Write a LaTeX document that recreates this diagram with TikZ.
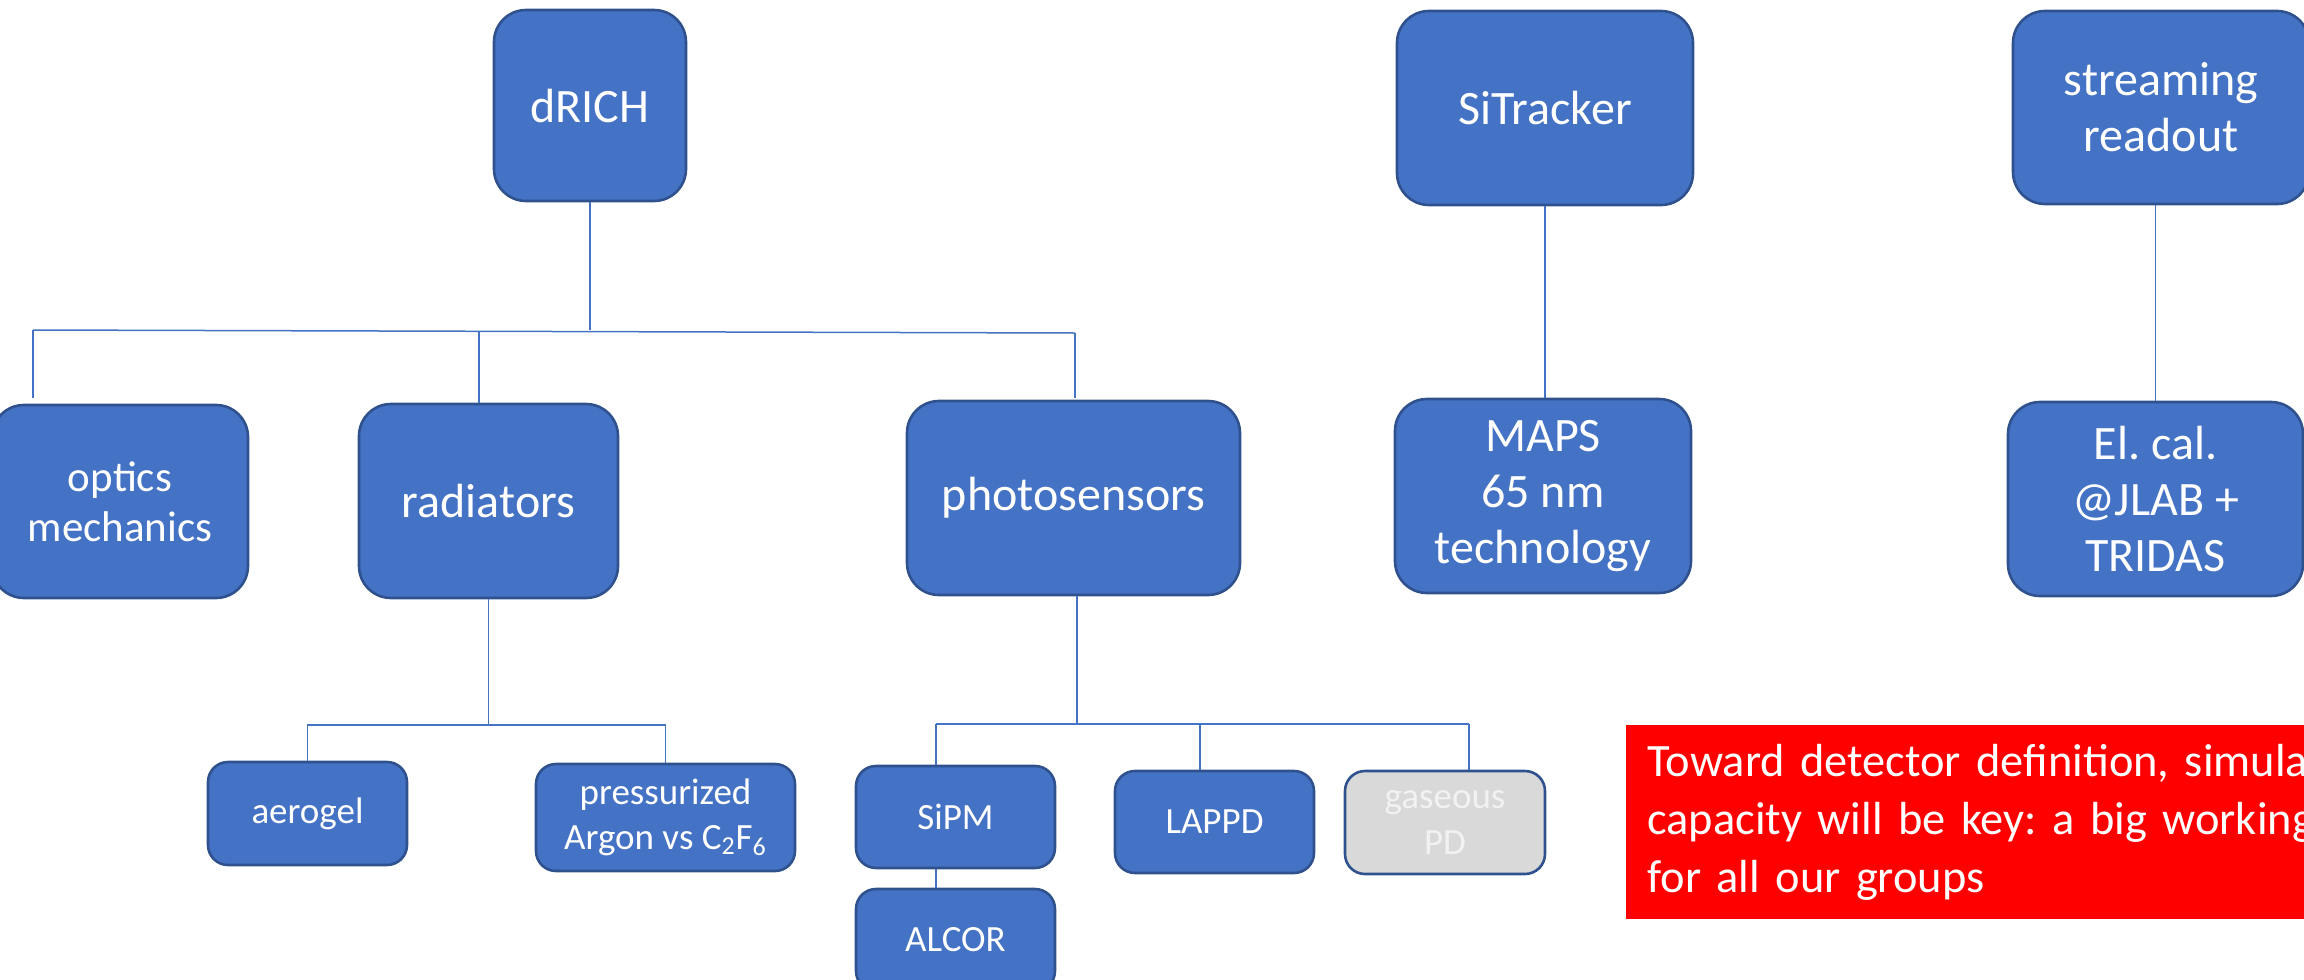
\documentclass[tikz,border=0pt]{standalone}
\usepackage{fontspec}
\setmainfont{Carlito}
\frenchspacing
\definecolor{boxblue}{HTML}{4472C4}
\definecolor{edgeblue}{HTML}{2F528F}
\definecolor{padgray}{HTML}{D9D9D9}
\definecolor{padtext}{HTML}{F2F2F2}
\tikzset{
  block/.style={rectangle, rounded corners=16pt, fill=boxblue, draw=edgeblue,
    line width=1.3pt, text=white, align=center, inner sep=0pt,
    font=\fontsize{24}{28}\selectfont},
  leaf/.style={block, rounded corners=10pt, font=\fontsize{18.5}{22.6}\selectfont},
  link/.style={draw=boxblue, line width=0.75pt},
  notebox/.style={anchor=north west, fill=red, text=white, text width=700pt,
    minimum height=97pt, inner xsep=10.5pt, inner ysep=0pt, align=left,
    font=\fontsize{23.2}{28.8}\selectfont},
}
\begin{document}
\begin{tikzpicture}[x=0.5pt,y=-0.5pt]
\useasboundingbox (0,0) rectangle (2304,980);
\clip (0,0) rectangle (2304,980);

% top level
\node[block, minimum width=96pt, minimum height=95.5pt] (drich) at (590,105.5) {dRICH};
\node[block, minimum width=148pt, minimum height=97pt] (sitracker) at (1545,108) {SiTracker};
\node[block, minimum width=148pt, minimum height=96.5pt] (streaming) at (2161,107.5) {streaming\\readout};

% second level
\node[block, font=\fontsize{21.5}{24.8}\selectfont, minimum width=128pt, minimum height=96.5pt] (optics) at (120,501.5) {optics\\mechanics};
\node[block, minimum width=129.5pt, minimum height=97pt] (radiators) at (488.5,501) {radiators};
\node[block, minimum width=166.5pt, minimum height=97pt] (photosensors) at (1073.5,498) {photosensors};
\node[block, minimum width=148pt, minimum height=97pt] (maps) at (1543,496) {MAPS\\65 nm\\technology};
\node[block, minimum width=147.5pt, minimum height=97pt] (elcal) at (2155.5,499) {El. cal.\\@JLAB +\\TRIDAS};

% third level
\node[leaf, minimum width=99.5pt, minimum height=51.5pt] (aerogel) at (307.5,813.5) {aerogel};
\node[leaf, minimum width=129.5pt, minimum height=53.5pt] (pressurized) at (665.5,817.5) {pressurized\\Argon vs C\textsubscript{2}F\textsubscript{6}};
\node[leaf, minimum width=99.5pt, minimum height=51pt] (sipm) at (955.5,817) {SiPM};
\node[leaf, minimum width=99.5pt, minimum height=51pt] (alcor) at (955.5,940) {ALCOR};
\node[leaf, minimum width=99.5pt, minimum height=51pt] (lappd) at (1214.5,822) {LAPPD};
\node[leaf, fill=padgray, text=padtext, minimum width=100pt, minimum height=51.5pt] (gaseous) at (1445,822.5) {gaseous\\PD};

% note
\node[notebox] (note) at (1626,725) {Toward detector definition, simula\\capacity will be key: a big working\\for all our groups};

% dRICH tree
\coordinate (tl) at (33,330);
\coordinate (tr) at (1075,333);
\coordinate (tm) at (479,332);
\draw[link] (tl) -- (tr);
\draw[link] (drich.south) -- (drich.south |- tl);
\draw[link, shorten >=3pt] (tl) -- (tl |- optics.north);
\draw[link] (tm) -- (tm |- radiators.north);
\draw[link, shorten >=1pt] (tr) -- (tr |- photosensors.north);

% radiators tree
\coordinate (rb) at (488.5,725);
\draw[link] (radiators.south) -- (rb);
\draw[link] (aerogel.north) -- (aerogel.north |- rb) -- (pressurized.north |- rb) -- (pressurized.north);

% photosensors tree
\coordinate (pv) at (1077,724);
\coordinate (pa) at (936,724);
\coordinate (pl) at (1200,724);
\coordinate (pg) at (1469,724);
\draw[link] (pv |- photosensors.south) -- (pv);
\draw[link] (pa) -- (pg);
\draw[link] (pa) -- (pa |- sipm.north);
\draw[link] (pl) -- (pl |- lappd.north);
\draw[link] (pg) -- (pg |- gaseous.north);
\draw[link] (pa |- sipm.south) -- (pa |- alcor.north);

% other columns
\draw[link] (sitracker.south) -- (sitracker.south |- maps.north);
\draw[link] (elcal.north |- streaming.south) -- (elcal.north);
\end{tikzpicture}
\end{document}
